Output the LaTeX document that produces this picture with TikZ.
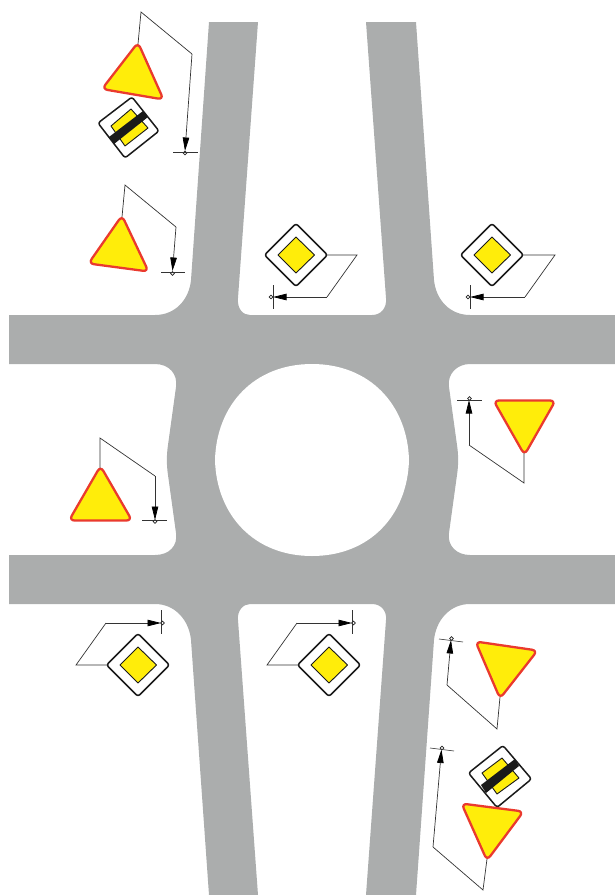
\documentclass[tikz,border=0pt]{standalone}
\usetikzlibrary{arrows.meta}
\definecolor{roadgrey}{HTML}{ABADAD}
\definecolor{signyellow}{HTML}{FFED0A}
\definecolor{signred}{HTML}{EA3A2E}
\definecolor{signblack}{HTML}{1A1A1A}
\tikzset{
  road/.style={fill=roadgrey,draw=none},
  island/.style={fill=white,draw=none},
  tri/.style={fill=signyellow,draw=signred,line width=2.3pt,line join=round,rounded corners=5.5pt},
  plate/.style={fill=white,draw=signblack,line width=1.5pt,line join=round,rounded corners=2.5pt},
  core/.style={fill=signyellow,draw=signblack,line width=.9pt,line join=round},
  bar/.style={fill=signblack,draw=none},
  leader/.style={draw=black!80,line width=.7pt,line join=miter},
  headed/.style={draw=black!80,line width=.7pt,-{Triangle[length=13.500pt,width=6.5pt,black]}},
  crossbar/.style={draw=black!80,line width=.6pt},
  foot/.style={circle,draw=black!85,fill=white,line width=.6pt,inner sep=0pt,minimum size=3.8pt}
}
\begin{document}
\begin{tikzpicture}[x=1pt,y=-1pt]
\useasboundingbox (0,0) rectangle (615,895);
% roads
\path[road] (209,22) -- (258,22) -- (238,298) .. controls (237,309) and (243,315) .. (250,315)
 -- (372,315) .. controls (381,315) and (387,308) .. (386,298) -- (366,22) -- (416,22) -- (434,280)
 .. controls (436,300) and (450,315) .. (470,315) -- (615,315) -- (615,364) -- (470,364)
 .. controls (457,364) and (447,374) .. (449,387) -- (457,445) .. controls (458.500,455) and (458.500,465) .. (457,475)
 -- (449,533) .. controls (447,546) and (457,555) .. (470,555) -- (615,555) -- (615,604) -- (470,604)
 .. controls (450,604) and (436,620) .. (434,640) -- (416,895) -- (366,895) -- (386,620)
 .. controls (387,611) and (381,604) .. (372,604) -- (250,604) .. controls (243,604) and (237,611) .. (238,620)
 -- (258,895) -- (209,895) -- (191,640) .. controls (189,620) and (175,604) .. (155,604) -- (9,604) -- (9,555) -- (155,555)
 .. controls (169,555) and (178,546) .. (176,533) -- (168,475) .. controls (166.500,465) and (166.500,455) .. (168,445)
 -- (176,387) .. controls (178,374) and (169,364) .. (155,364) -- (9,364) -- (9,315) -- (155,315)
 .. controls (175,315) and (189,300) .. (191,280) -- cycle;
\path[island] (215,460) .. controls (216.500,405) and (254,364) .. (312,364) .. controls (370,364) and (407.500,405) .. (409,460)
 .. controls (407.500,515) and (370,556) .. (312,556) .. controls (254,556) and (216.500,515) .. (215,460) -- cycle;
% sign 1: yield + end of priority, top left
\path[tri] (138,42.500) -- (163.500,99.500) -- (102,89) -- cycle;
\path[plate] (132,97) -- (159,131) -- (125,158) -- (98,123) -- cycle;
\path[core] (131,109) -- (148,128) -- (125,146) -- (111,126) -- cycle;
\path[bar] (109,137) -- (114,144) -- (148,117) -- (143,111) -- cycle;
\coordinate (a0) at (138,44); \coordinate (a1) at (141,12); \coordinate (a2) at (192,54); \coordinate (a3) at (185,151);
\node[foot] (af) at (185,153) {};
\coordinate (ac1) at (173,152); \coordinate (ac2) at (198,152);
\draw[leader] (a0) -- (a1) -- (a2);
\draw[headed] (a2) -- (a3);
\draw[crossbar] (ac1) -- (ac2);
% sign 2
\path[tri] (122,215.500) -- (148.500,271.500) -- (88.500,263.500) -- cycle;
\coordinate (b0) at (122,217); \coordinate (b1) at (125,185); \coordinate (b2) at (176,227); \coordinate (b3) at (172.500,271);
\node[foot] (bf) at (172.500,273.500) {};
\coordinate (bc1) at (161,272.500); \coordinate (bc2) at (185,272.500);
\draw[leader] (b0) -- (b1) -- (b2);
\draw[headed] (b2) -- (b3);
\draw[crossbar] (bc1) -- (bc2);
% sign 3
\path[plate] (296,223.500) -- (327.500,255) -- (296,286.500) -- (264.500,255) -- cycle;
\path[core] (296,237) -- (314.500,255) -- (296,273) -- (278,255) -- cycle;
\coordinate (c0) at (327,255); \coordinate (c1) at (357,255); \coordinate (c2) at (327,297); \coordinate (c3) at (273,297);
\node[foot] (cf) at (271,297) {};
\coordinate (cc1) at (273,285); \coordinate (cc2) at (273,309);
\draw[leader] (c0) -- (c1) -- (c2);
\draw[headed] (c2) -- (c3);
\draw[crossbar] (cc1) -- (cc2);
% sign 4
\path[plate] (492,223.500) -- (523.500,255) -- (492,286.500) -- (460.500,255) -- cycle;
\path[core] (492,237) -- (510.500,255) -- (492,273) -- (474,255) -- cycle;
\coordinate (d0) at (523,255); \coordinate (d1) at (555,255); \coordinate (d2) at (525,297); \coordinate (d3) at (470,297);
\node[foot] (df) at (468,297) {};
\coordinate (dc1) at (470,285); \coordinate (dc2) at (470,309);
\draw[leader] (d0) -- (d1) -- (d2);
\draw[headed] (d2) -- (d3);
\draw[crossbar] (dc1) -- (dc2);
% sign 5
\path[tri] (493.500,400.500) -- (555.500,400.500) -- (524.500,455) -- cycle;
\coordinate (e0) at (524,453); \coordinate (e1) at (524,483); \coordinate (e2) at (469,445); \coordinate (e3) at (469,400);
\node[foot] (ef) at (469.500,398.500) {};
\coordinate (ec1) at (457,400); \coordinate (ec2) at (482,400);
\draw[leader] (e0) -- (e1) -- (e2);
\draw[headed] (e2) -- (e3);
\draw[crossbar] (ec1) -- (ec2);
% sign 6
\path[tri] (100.500,466) -- (132,520.500) -- (69,520.500) -- cycle;
\coordinate (f0) at (100,468); \coordinate (f1) at (100,438); \coordinate (f2) at (155,476); \coordinate (f3) at (155,520);
\node[foot] (ff) at (155,521.500) {};
\coordinate (fc1) at (142,520.500); \coordinate (fc2) at (167,520.500);
\draw[leader] (f0) -- (f1) -- (f2);
\draw[headed] (f2) -- (f3);
\draw[crossbar] (fc1) -- (fc2);
% sign 7
\path[plate] (138,633.500) -- (169.500,665) -- (138,696.500) -- (106.500,665) -- cycle;
\path[core] (138,647) -- (156.500,665) -- (138,683) -- (120,665) -- cycle;
\coordinate (g0) at (107,665); \coordinate (g1) at (76,665); \coordinate (g2) at (106,623); \coordinate (g3) at (161,623);
\node[foot] (gf) at (162.500,623) {};
\coordinate (gc1) at (161,610); \coordinate (gc2) at (161,634);
\draw[leader] (g0) -- (g1) -- (g2);
\draw[headed] (g2) -- (g3);
\draw[crossbar] (gc1) -- (gc2);
% sign 8
\path[plate] (329,633.500) -- (360.500,665) -- (329,696.500) -- (297.500,665) -- cycle;
\path[core] (329,647) -- (347.500,665) -- (329,683) -- (311,665) -- cycle;
\coordinate (h0) at (298,665); \coordinate (h1) at (267,665); \coordinate (h2) at (297,623); \coordinate (h3) at (352,623);
\node[foot] (hf) at (353.500,623) {};
\coordinate (hc1) at (352,610); \coordinate (hc2) at (352,634);
\draw[leader] (h0) -- (h1) -- (h2);
\draw[headed] (h2) -- (h3);
\draw[crossbar] (hc1) -- (hc2);
% sign 9
\path[tri] (475.500,641.500) -- (537.500,650.500) -- (500,698.500) -- cycle;
\coordinate (i0) at (500,697); \coordinate (i1) at (497,729); \coordinate (i2) at (447,685); \coordinate (i3) at (451,640);
\node[foot] (if) at (451.500,638.500) {};
\coordinate (ic1) at (439,639); \coordinate (ic2) at (463,642);
\draw[leader] (i0) -- (i1) -- (i2);
\draw[headed] (i2) -- (i3);
\draw[crossbar] (ic1) -- (ic2);
% sign 10: end of priority + yield, bottom right
\path[plate] (503,745.500) -- (531.500,779) -- (497,807.500) -- (468.500,773) -- cycle;
\path[core] (502,758) -- (519,778) -- (497,794) -- (482,773) -- cycle;
\path[bar] (481,785) -- (486,793) -- (519,766) -- (515,759) -- cycle;
\path[tri] (461.500,803.500) -- (523.500,811.500) -- (487,860.500) -- cycle;
\coordinate (j0) at (487,859); \coordinate (j1) at (483,890); \coordinate (j2) at (433,847); \coordinate (j3) at (441.500,749.500);
\node[foot] (jf) at (442,748) {};
\coordinate (jc1) at (430,748); \coordinate (jc2) at (454,751);
\draw[leader] (j0) -- (j1) -- (j2);
\draw[headed] (j2) -- (j3);
\draw[crossbar] (jc1) -- (jc2);
\end{tikzpicture}
\end{document}
